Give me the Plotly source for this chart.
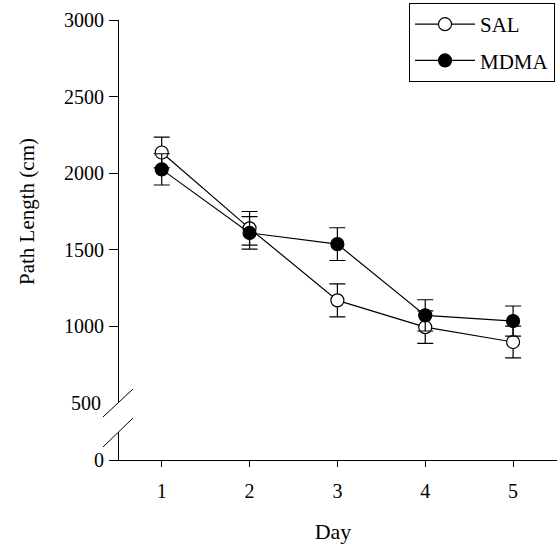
import plotly.graph_objects as go

days = [1, 2, 3, 4, 5]
sal_mean = [2135, 1640, 1170, 995, 898]
sal_err = [100, 110, 108, 106, 104]
mdma_mean = [2025, 1610, 1537, 1072, 1035]
mdma_err = [102, 106, 107, 102, 98]
upper_ticks = [1000, 1500, 2000, 2500, 3000]
lower_ticks = [0]

FONT = "Liberation Serif, Times New Roman, serif"
W, H = 557, 552
L, R, T, B = 109, 0, 20, 92
pw, ph = W - L - R, H - T - B

def px(x):
    return (x - L) / pw

def py(y):
    return (H - B - y) / ph

yaxis_pos = px(118)

fig = go.Figure()
fig.add_trace(go.Scatter(
    x=days, y=sal_mean, name="SAL", mode="lines+markers", legendgroup="a",
    line=dict(color="black", width=1.2),
    marker=dict(symbol="circle", size=13, color="white", line=dict(color="black", width=1.2)),
    error_y=dict(type="data", array=sal_err, color="black", thickness=1.2, width=8),
))
fig.add_trace(go.Scatter(
    x=days, y=mdma_mean, name="MDMA", mode="lines+markers", legendgroup="b",
    line=dict(color="black", width=1.2),
    marker=dict(symbol="circle", size=13, color="black", line=dict(color="black", width=1.2)),
    error_y=dict(type="data", array=mdma_err, color="black", thickness=1.2, width=8),
))
fig.add_trace(go.Scatter(x=[], y=[], yaxis="y2", showlegend=False, hoverinfo="skip"))
fig.add_trace(go.Scatter(x=[], y=[], yaxis="y3", showlegend=False, hoverinfo="skip"))

tickfont = dict(family=FONT, size=20, color="black")
upper_dom = [py(403), 1]
lower_dom = [0, py(432)]

fig.update_layout(
    width=W, height=H,
    margin=dict(l=L, r=R, t=T, b=B),
    paper_bgcolor="white", plot_bgcolor="white",
    font=dict(family=FONT, color="black"),
    xaxis=dict(
        range=[0.4, 5.5], tickvals=days, anchor="free", position=0,
        showline=True, linecolor="black", linewidth=1,
        ticks="outside", ticklen=6, tickcolor="black",
        showgrid=False, zeroline=False, tickfont=tickfont,
        ticklabelstandoff=7,
        title=dict(text="Day", font=dict(family=FONT, size=22, color="black"), standoff=22),
    ),
    yaxis=dict(
        domain=upper_dom, range=[500, 3000], tickvals=upper_ticks,
        anchor="free", position=yaxis_pos,
        showline=True, linecolor="black", linewidth=1,
        ticks="outside", ticklen=9, tickcolor="black",
        showgrid=False, zeroline=False, tickfont=tickfont,
        ticklabelstandoff=1,
        title=dict(text="Path Length (cm)", font=dict(family=FONT, size=21, color="black"), standoff=22),
    ),
    yaxis3=dict(
        domain=upper_dom, range=[500, 3000], tickvals=[500],
        anchor="free", position=yaxis_pos, overlaying="y",
        showline=False, ticks="outside", ticklen=9, tickcolor="rgba(0,0,0,0)",
        showgrid=False, zeroline=False, tickfont=tickfont, ticklabelstandoff=4,
    ),
    yaxis2=dict(
        domain=lower_dom, range=[0, 183], tickvals=lower_ticks,
        anchor="free", position=yaxis_pos,
        showline=True, linecolor="black", linewidth=1,
        ticks="outside", ticklen=9, tickcolor="black",
        showgrid=False, zeroline=False, tickfont=tickfont, ticklabelstandoff=1,
    ),
    legend=dict(
        x=px(555), y=py(3), xanchor="right", yanchor="top",
        bordercolor="black", borderwidth=1, bgcolor="white",
        font=dict(family=FONT, size=21, color="black"),
        itemwidth=60, tracegroupgap=6, traceorder="grouped",
    ),
    showlegend=True,
    shapes=[
        dict(type="line", xref="paper", yref="paper",
             x0=px(103), y0=py(417), x1=px(133), y1=py(389),
             line=dict(color="black", width=1)),
        dict(type="line", xref="paper", yref="paper",
             x0=px(103), y0=py(447), x1=px(133), y1=py(418),
             line=dict(color="black", width=1)),
    ],
)

fig.write_html("out.html")
